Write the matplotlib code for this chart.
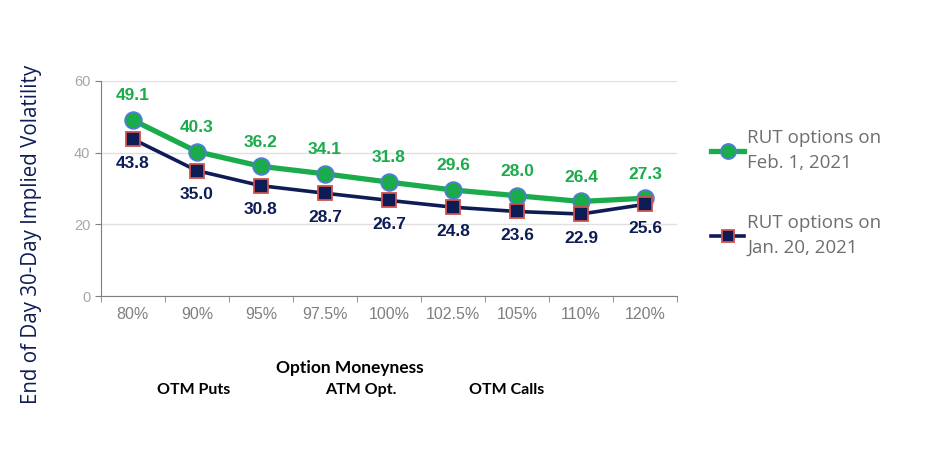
import matplotlib
matplotlib.use("Agg")
import matplotlib.pyplot as plt
import numpy as np

# data
moneyness = ["80%", "90%", "95%", "97.5%", "100%", "102.5%", "105%", "110%", "120%"]
feb_iv = [49.1, 40.3, 36.2, 34.1, 31.8, 29.6, 28.0, 26.4, 27.3]
jan_iv = [43.8, 35.0, 30.8, 28.7, 26.7, 24.8, 23.6, 22.9, 25.6]
feb_label = "RUT options on\nFeb. 1, 2021"
jan_label = "RUT options on\nJan. 20, 2021"

green = "#1AAB4B"
navy = "#0D1C55"

fig = plt.figure(figsize=(9.25, 4.5), dpi=100)
ax = fig.add_axes([0.109, 0.342, 0.623, 0.478])

x = np.arange(len(moneyness))
ax.plot(x, feb_iv, color=green, lw=3.8, marker="o", ms=12,
        mfc=green, mec="#4F7FD0", mew=1.3, label=feb_label, zorder=3)
ax.plot(x, jan_iv, color=navy, lw=2.6, marker="s", ms=10,
        mfc=navy, mec="#D0504D", mew=1.3, label=jan_label, zorder=4)

for xi, v in zip(x, feb_iv):
    ax.annotate(f"{v:.1f}", (xi, v), xytext=(0, 12), textcoords="offset points",
                ha="center", va="bottom", color=green, fontsize=12.5,
                fontweight="bold", family="Liberation Sans")
for xi, v in zip(x, jan_iv):
    ax.annotate(f"{v:.1f}", (xi, v), xytext=(0, -12), textcoords="offset points",
                ha="center", va="top", color=navy, fontsize=12.5,
                fontweight="bold", family="Liberation Sans")

ax.set_xlim(-0.5, len(moneyness) - 0.5)
ax.set_ylim(0, 60)
ax.set_yticks([0, 20, 40, 60])
ax.set_xticks(x)
ax.set_xticklabels(moneyness)
ax.set_xticks(np.arange(-0.5, len(moneyness)), minor=True)
ax.tick_params(axis="x", which="major", length=0, pad=8, labelsize=11.5,
               labelcolor="#7F7F7F")
ax.tick_params(axis="x", which="minor", length=4, color="#7F7F7F")
ax.tick_params(axis="y", length=4, color="#7F7F7F", labelsize=10.5,
               labelcolor="#A6A6A6")
for lab in ax.get_xticklabels() + ax.get_yticklabels():
    lab.set_family("Liberation Sans")

ax.grid(axis="y", color="#E0E0E0", lw=1)
ax.set_axisbelow(True)
for s in ["top", "right"]:
    ax.spines[s].set_visible(False)
for s in ["left", "bottom"]:
    ax.spines[s].set_color("#7F7F7F")

fig.text(0.034, 0.478, "End of Day 30-Day Implied Volatility", rotation=90,
         ha="center", va="center", color=navy, fontsize=14.8, family="Open Sans")
fig.text(0.378, 0.182, "Option Moneyness", ha="center", va="center",
         fontsize=12.5, fontweight="bold", family="Lato")
fig.text(0.209, 0.133, "OTM Puts", ha="center", va="center",
         fontsize=11.5, fontweight="bold", family="Lato")
fig.text(0.39, 0.133, "ATM Opt.", ha="center", va="center",
         fontsize=11.5, fontweight="bold", family="Lato")
fig.text(0.548, 0.133, "OTM Calls", ha="center", va="center",
         fontsize=11.5, fontweight="bold", family="Lato")

leg = ax.legend(loc="upper left", bbox_to_anchor=(0.75, 0.75),
                bbox_transform=fig.transFigure, frameon=False,
                prop={"family": "Open Sans", "size": 13.5}, labelspacing=2.2,
                handlelength=1.8, handletextpad=0.15, markerscale=0.9)
for t in leg.get_texts():
    t.set_color("#6E6E6E")
    t.set_linespacing(1.5)

fig.savefig("out.png", dpi=100)
